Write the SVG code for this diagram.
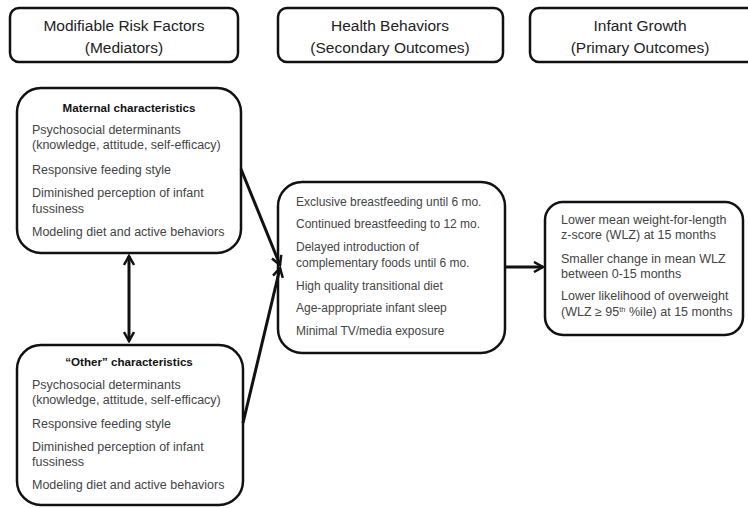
<svg xmlns="http://www.w3.org/2000/svg" width="748" height="508" viewBox="0 0 748 508">
<defs>
<style>
.box{fill:#fff;stroke:#111;stroke-width:2.5}
.hdr{font-family:"Liberation Sans",Arial,sans-serif;font-size:15.5px;fill:#222;text-anchor:middle}
.t{font-family:"Liberation Sans",Arial,sans-serif;font-size:12.5px;fill:#444}
.m{font-size:12px}
.b{font-family:"Liberation Sans",Arial,sans-serif;font-size:11.6px;font-weight:bold;fill:#111;text-anchor:middle}
.ln{stroke:#111;stroke-width:3;fill:none}
</style>
<marker id="ah" viewBox="0 0 12 12" refX="10" refY="6" markerWidth="12" markerHeight="12" markerUnits="userSpaceOnUse" orient="auto-start-reverse">
<path d="M1,1 L10,6 L1,11" fill="none" stroke="#111" stroke-width="2.5"/>
</marker>
</defs>
<rect width="748" height="508" fill="#fff"/>
<g id="hdr-risk"><rect class="box" x="10" y="8" width="228" height="54" rx="9"/><text class="hdr" x="124" y="31">Modifiable Risk Factors</text><text class="hdr" x="124" y="53">(Mediators)</text></g>
<g id="hdr-behav"><rect class="box" x="278" y="8" width="225" height="54" rx="9"/><text class="hdr" x="390" y="31">Health Behaviors</text><text class="hdr" x="390" y="53">(Secondary Outcomes)</text></g>
<g id="hdr-growth"><rect class="box" x="530" y="8" width="230" height="54" rx="9"/><text class="hdr" x="640" y="31">Infant Growth</text><text class="hdr" x="640" y="53">(Primary Outcomes)</text></g>
<g id="maternal"><rect class="box" x="17" y="88" width="224" height="165" rx="24"/>
<text class="b" x="129" y="112">Maternal characteristics</text>
<text class="t" x="32" y="134">Psychosocial determinants</text>
<text class="t" x="32" y="149">(knowledge, attitude, self-efficacy)</text>
<text class="t" x="32" y="174">Responsive feeding style</text>
<text class="t" x="32" y="197">Diminished perception of infant</text>
<text class="t" x="32" y="213">fussiness</text>
<text class="t" x="32" y="236">Modeling diet and active behaviors</text>
</g>
<g id="other"><rect class="box" x="17" y="345" width="226" height="160" rx="24"/>
<text class="b" x="129" y="366">“Other” characteristics</text>
<text class="t" x="32" y="389">Psychosocial determinants</text>
<text class="t" x="32" y="404">(knowledge, attitude, self-efficacy)</text>
<text class="t" x="32" y="428">Responsive feeding style</text>
<text class="t" x="32" y="451">Diminished perception of infant</text>
<text class="t" x="32" y="466">fussiness</text>
<text class="t" x="32" y="489">Modeling diet and active behaviors</text>
</g>
<g id="behaviors"><rect class="box" x="278" y="182" width="227" height="171" rx="24"/>
<text class="t m" x="296" y="206">Exclusive breastfeeding until 6 mo.</text>
<text class="t m" x="296" y="228">Continued breastfeeding to 12 mo.</text>
<text class="t m" x="296" y="251">Delayed introduction  of</text>
<text class="t m" x="296" y="267">complementary  foods until 6 mo.</text>
<text class="t m" x="296" y="290">High quality transitional diet</text>
<text class="t m" x="296" y="312">Age-appropriate infant sleep</text>
<text class="t m" x="296" y="335">Minimal TV/media  exposure</text>
</g>
<g id="growth"><rect class="box" x="545" y="202" width="198" height="133" rx="18"/>
<text class="t" x="561" y="224">Lower mean weight-for-length</text>
<text class="t" x="561" y="239">z-score (WLZ) at 15 months</text>
<text class="t" x="561" y="263">Smaller change in mean WLZ</text>
<text class="t" x="561" y="278">between 0-15 months</text>
<text class="t" x="561" y="300">Lower likelihood of overweight</text>
<text class="t" x="561" y="316">(WLZ ≥ 95<tspan font-size="7.5" dy="-4">th</tspan><tspan dy="4"> %ile) at 15 months</tspan></text>
</g>
<g id="connectors">
<line class="ln" x1="129" y1="256" x2="129" y2="341" marker-start="url(#ah)" marker-end="url(#ah)"/>
<line class="ln" x1="241" y1="169" x2="280" y2="265" marker-end="url(#ah)"/>
<line class="ln" x1="243" y1="423" x2="280" y2="268" marker-end="url(#ah)"/>
<line class="ln" x1="506" y1="267" x2="543" y2="267" marker-end="url(#ah)"/>
</g>
</svg>
